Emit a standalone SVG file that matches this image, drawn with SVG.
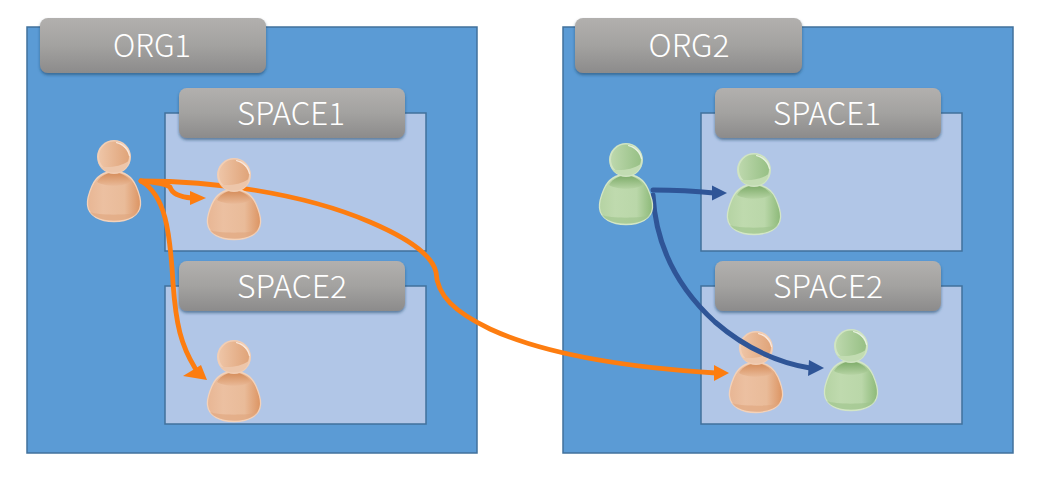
<svg xmlns="http://www.w3.org/2000/svg" width="1055" height="481" viewBox="0 0 1055 481">
<style>
.org{fill:#5b9bd5;stroke:#41719c;stroke-width:1.5}
.space{fill:#b1c6e7;stroke:#41719c;stroke-width:1.5}
.lab{fill:url(#gray);filter:url(#sh)}
text{font-family:"Noto Sans CJK JP","Noto Sans",sans-serif;font-weight:300;font-size:31.500px;fill:#fff;text-anchor:middle}
.o{fill:none;stroke:#fd7d10;stroke-width:4.800;stroke-linecap:round;stroke-linejoin:round}
.b{fill:none;stroke:#2f5597;stroke-width:5;stroke-linecap:round}
</style>
<defs>
<linearGradient id="gray" x1="0" y1="0" x2="0" y2="1"><stop offset="0" stop-color="#b2b0ae"/><stop offset=".5" stop-color="#a3a2a0"/><stop offset="1" stop-color="#8c8b8b"/></linearGradient>
<filter id="sh" x="-5%" y="-15%" width="110%" height="135%"><feDropShadow dx="0" dy="2" stdDeviation="1.500" flood-color="#24476b" flood-opacity=".6"/></filter>
<linearGradient id="oh" x1="0" y1="0" x2="1" y2="0"><stop offset="0" stop-color="#eec5a7"/><stop offset="1" stop-color="#e0a479"/></linearGradient>
<linearGradient id="ob" x1="0" y1="0" x2="1" y2="0"><stop offset="0" stop-color="#e8b694"/><stop offset=".3" stop-color="#ecc0a1"/><stop offset=".7" stop-color="#e9bb99"/><stop offset="1" stop-color="#dc9462"/></linearGradient>
<linearGradient id="on" x1="0" y1="0" x2="0" y2="1"><stop offset="0" stop-color="#d58c59"/><stop offset="1" stop-color="#e9b997"/></linearGradient>
<linearGradient id="gh" x1="0" y1="0" x2="1" y2="0"><stop offset="0" stop-color="#bdd8ad"/><stop offset="1" stop-color="#97c085"/></linearGradient>
<linearGradient id="gb" x1="0" y1="0" x2="1" y2="0"><stop offset="0" stop-color="#b5d3a3"/><stop offset=".3" stop-color="#bfdaae"/><stop offset=".7" stop-color="#bad7a9"/><stop offset="1" stop-color="#8cb978"/></linearGradient>
<linearGradient id="gn" x1="0" y1="0" x2="0" y2="1"><stop offset="0" stop-color="#7dab68"/><stop offset="1" stop-color="#b5d3a3"/></linearGradient>
<path id="pbody" d="M27 31.500C38 31.500 45 37 49 46C52.500 54 54 60 53.500 65C52.500 76 41 81.500 27 81.500C13 81.500 1.500 76 .5 65C0 60 1.500 54 5 46C9 37 16 31.500 27 31.500Z"/>
<path id="pneck" d="M10 42C14 35 21 32.500 27 32.500C33 32.500 40 35 44 42C36 47 18 47 10 42Z"/>
<path id="pband" d="M3 72C10 75.500 44 75.500 51 72C47 77.500 38 80.500 27 80.500C16 80.500 7 77.500 3 72Z"/>
<path id="pchin" d="M13 26.500C20 28 34 27 41.500 21C41 28 35 32.500 27 32.500C21 32.500 16 30 13 26.500Z"/>
<path id="prim" d="M29 2.500C36.500 3 42 9 42.500 16C41 10 36 4.500 29 2.500Z"/>
<symbol id="po" viewBox="0 0 54 82" width="54" height="82" overflow="visible">
<use href="#pbody" fill="url(#ob)" stroke="#f3d2ba" stroke-width="1.300"/>
<use href="#pneck" fill="url(#on)"/><use href="#pband" fill="#dfa57d" opacity=".6"/>
<circle cx="27" cy="17" r="17" fill="#f2ceb4"/>
<circle cx="27" cy="16.500" r="15" fill="url(#oh)"/>
<use href="#pchin" fill="#edc6aa"/><use href="#prim" fill="#fbeee5" stroke="#fbeee5" stroke-width=".6"/>
</symbol>
<symbol id="pg" viewBox="0 0 54 82" width="54" height="82" overflow="visible">
<use href="#pbody" fill="url(#gb)" stroke="#d3e6c6" stroke-width="1.300"/>
<use href="#pneck" fill="url(#gn)"/><use href="#pband" fill="#9cc38a" opacity=".6"/>
<circle cx="27" cy="17" r="17" fill="#d0e4c2"/>
<circle cx="27" cy="16.500" r="15" fill="url(#gh)"/>
<use href="#pchin" fill="#c2dcb2"/><use href="#prim" fill="#eff6e9" stroke="#eff6e9" stroke-width=".6"/>
</symbol>
</defs>
<rect width="1055" height="481" fill="#fff"/>
<g id="org1"><rect class="org" x="27" y="27" width="450" height="426"/></g>
<g id="org2"><rect class="org" x="563" y="27" width="450" height="426"/></g>
<g id="org1-space1"><rect class="space" x="165" y="113" width="261" height="138"/></g>
<g id="org1-space2"><rect class="space" x="165" y="286" width="261" height="138"/></g>
<g id="org2-space1"><rect class="space" x="701" y="113" width="261" height="138"/></g>
<g id="org2-space2"><rect class="space" x="701" y="286" width="261" height="138"/></g>
<g id="org1-label"><rect class="lab" x="40" y="18" width="226" height="55" rx="8"/><text x="152" y="57" textLength="78" lengthAdjust="spacingAndGlyphs">ORG1</text></g>
<g id="org2-label"><rect class="lab" x="575" y="18" width="227" height="55" rx="8"/><text x="689" y="57" textLength="81" lengthAdjust="spacingAndGlyphs">ORG2</text></g>
<g id="org1-space1-label"><rect class="lab" x="179" y="88" width="226" height="50" rx="8"/><text x="291" y="124.500" textLength="108" lengthAdjust="spacingAndGlyphs">SPACE1</text></g>
<g id="org1-space2-label"><rect class="lab" x="179" y="261" width="226" height="50" rx="8"/><text x="292" y="297.500" textLength="110" lengthAdjust="spacingAndGlyphs">SPACE2</text></g>
<g id="org2-space1-label"><rect class="lab" x="715" y="88" width="226" height="50" rx="8"/><text x="827" y="124.500" textLength="108" lengthAdjust="spacingAndGlyphs">SPACE1</text></g>
<g id="org2-space2-label"><rect class="lab" x="715" y="261" width="226" height="50" rx="8"/><text x="828" y="297.500" textLength="110" lengthAdjust="spacingAndGlyphs">SPACE2</text></g>
<g id="user-o4"><use href="#po" x="729" y="331"/></g>
<g id="connectors">
<path class="o" d="M141 181C152 182 164 183 170 187C172 194 180 197 192 198"/><path d="M190 191L206 198L190 205Z" fill="#fd7d10"/>
<path class="o" d="M141 181C210 181 300 192 370 222C410 239 432 255 436 272C437 296 455 312 490 329C540 352 620 367 716 373"/><path d="M714 365L729 373L714 381Z" fill="#fd7d10"/>
<path class="o" d="M141 181C165 195 170 230 173 283C176 325 181 345 195 368"/><path d="M183 376L201 365L207 380Z" fill="#fd7d10"/>
<path class="b" d="M653 190C680 190 695 191 714 193"/><path d="M712 185.500L727 193L712 200.500Z" fill="#2f5597"/>
<path class="b" d="M653 195C656 250 680 290 715 322C745 348 775 362 810 368"/><path d="M809 360L824 368L808 376Z" fill="#2f5597"/>
</g>
<g id="user-o1"><use href="#po" x="87" y="140"/></g>
<g id="user-o2"><use href="#po" x="207" y="158"/></g>
<g id="user-o3"><use href="#po" x="207" y="340"/></g>
<g id="user-g1"><use href="#pg" x="599" y="143"/></g>
<g id="user-g2"><use href="#pg" x="727" y="153"/></g>
<g id="user-g3"><use href="#pg" x="824" y="329"/></g>
</svg>
